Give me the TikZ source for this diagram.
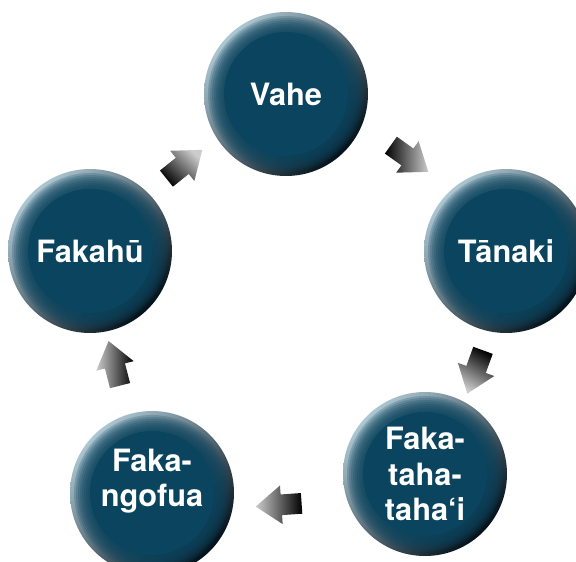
\documentclass[tikz,border=0pt]{standalone}
\usepackage{fontspec}
\setmainfont{TeX Gyre Heros}
\usetikzlibrary{shapes.arrows}
\definecolor{ballblue}{RGB}{11,68,94}
\definecolor{ballhi}{RGB}{172,198,210}
\definecolor{balldark}{RGB}{2,18,28}
\begin{document}
\begin{tikzpicture}
        \tikzset{ball/.style={circle, minimum size=3.28cm, inner sep=0pt, text=white, align=center,
            font=\bfseries\fontsize{17.5}{20}\selectfont,
            path picture={
              \shade[top color=ballhi, middle color=ballblue, bottom color=balldark, shading angle=45]
                (path picture bounding box.south west) rectangle (path picture bounding box.north east);
              \fill[ballblue] (path picture bounding box.center) circle (1.24cm);
              \foreach \r in {1.28,1.32,...,1.60}
                \fill[ballblue, opacity=0.22] (path picture bounding box.center) circle (\r);
            }}}
        \tikzset{flow/.style={single arrow, minimum height=0.92cm, minimum width=0.76cm,
            single arrow head extend=0.18cm, single arrow tip angle=74, inner xsep=0pt, inner ysep=0.2cm,
            sloped, allow upside down, top color=gray!40, bottom color=black}}
        \clip (0, 0) rectangle (11.52, -11.24);
        \node[ball] (vahe) at (5.72, -1.88) {Vahe};
        \node[ball] (tanaki) at (10.12, -5.02) {Tānaki};
        \node[ball] (fakataha) at (8.50, -9.48) {Faka-\\taha-\\taha‘i};
        \node[ball, text depth=17pt] (fakangofua) at (3.04, -9.86) {Faka-\\ngofua};
        \node[ball] (fakahu) at (1.80, -5.02) {Fakahū};
        \path ([shift={(-0.18,0.08)}]fakahu.center) -- ([shift={(-0.18,0.08)}]vahe.center) node[flow, shading angle=-45, midway] (a1) {};
        \path ([shift={(0.16,0.36)}]vahe.center) -- ([shift={(0.16,0.36)}]tanaki.center) node[flow, shading angle=-90, midway] (a2) {};
        \path ([shift={(0.24,-0.06)}]tanaki.center) -- ([shift={(0.24,-0.06)}]fakataha.center) node[flow, shading angle=150, midway] (a3) {};
        \path ([shift={(-0.06,-0.42)}]fakataha.center) -- ([shift={(-0.06,-0.42)}]fakangofua.center) node[flow, shading angle=90, midway] (a4) {};
        \path ([shift={(-0.10,0.04)}]fakangofua.center) -- ([shift={(-0.10,0.04)}]fakahu.center) node[flow, shading angle=90, midway] (a5) {};
    \end{tikzpicture}
\end{document}
